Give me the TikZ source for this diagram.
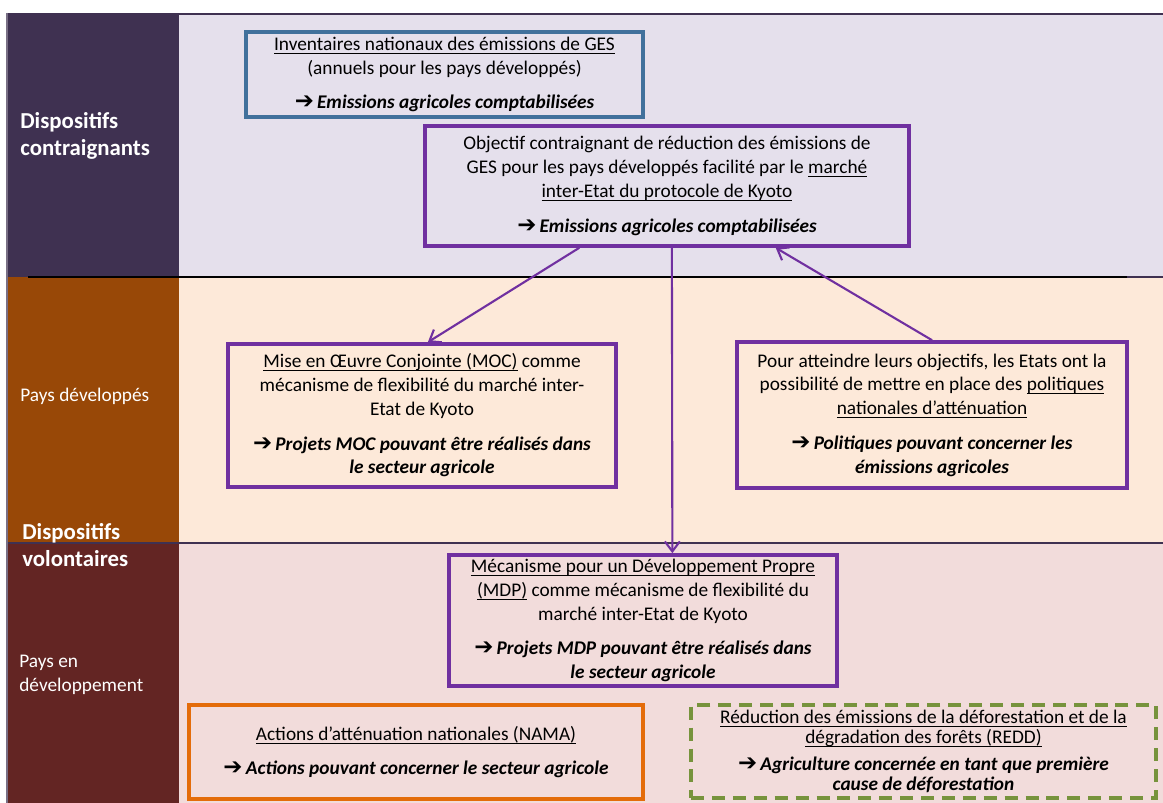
\documentclass[tikz,border=0pt]{standalone}
\usepackage{fontspec}
\setmainfont{Carlito}
\newfontfamily\symfont{DejaVu Sans}
\usetikzlibrary{arrows.meta,calc}

\definecolor{bandtop}{HTML}{3F3151}
\definecolor{banddev}{HTML}{984807}
\definecolor{bandpvd}{HTML}{632523}
\definecolor{filltop}{HTML}{E5E0EC}
\definecolor{filldev}{HTML}{FDE9D9}
\definecolor{fillpvd}{HTML}{F2DCDB}
\definecolor{kyoto}{HTML}{7030A0}
\definecolor{ges}{HTML}{41719C}
\definecolor{namacol}{HTML}{E46C0A}
\definecolor{reddcol}{HTML}{77933C}

\newcommand{\resultarrow}{{\fontsize{13}{12}\symfont\bfseries ➔}\,}
\newcommand{\keypt}[1]{\textbf{\textit{#1}}}
\newcommand{\uln}[1]{\setbox0\hbox{#1}\rlap{\copy0}\rule[-1.9pt]{\wd0}{0.5pt}}

\tikzset{
  box/.style={draw, line width=2.1pt, inner sep=0pt, align=center,
    font=\fontsize{11}{13.6}\selectfont},
  kyotobox/.style={box, draw=kyoto},
  bandlabel/.style={text=white, inner sep=0pt, align=left},
  flow/.style={draw=kyoto, line width=1.2pt, -{Straight Barb[length=2mm,width=3mm]}},
}

\begin{document}
\begin{tikzpicture}[x=0.02cm, y=-0.02cm]
\useasboundingbox (0,0) rectangle (1163,803);
% bands
\fill[filltop] (179,13) rectangle (1163,277); % contraignants
\fill[filldev] (179,277) rectangle (1163,543); % pays developpes
\fill[fillpvd] (179,543) rectangle (1163,803); % pays en developpement
\fill[bandtop] (7,13) rectangle (179,277);
\fill[banddev] (7,277) rectangle (179,543);
\fill[bandpvd] (7,543) rectangle (179,803);
\draw[bandtop, line width=1.6pt] (7,14) -- (1163,14);
\draw[black, line width=1.3pt] (28,277) -- (1127,277);
\draw[bandtop, line width=1.3pt] (1127,277) -- (1163,277);
\draw[bandtop, line width=1.3pt] (7,543) -- (1163,543);
\draw[bandtop!70, line width=0.6pt] (7,13) -- (7,803);

% band labels
\node[bandlabel, anchor=west, font=\fontsize{13}{15.5}\selectfont\bfseries] (lcontr) at (20,136) {Dispositifs\\contraignants};
\node[bandlabel, anchor=base west, font=\fontsize{11}{13.6}\selectfont] (ldev) at (20,402) {Pays développés};
\node[bandlabel, anchor=west, font=\fontsize{13}{15.5}\selectfont\bfseries] (lvol) at (22,545) {Dispositifs\\volontaires};
\node[bandlabel, anchor=west, font=\fontsize{11}{13.6}\selectfont] (lpvd) at (19,675) {Pays en\\développement};

% boxes
\node[box, draw=ges, minimum width=7.94cm, minimum height=1.70cm] (inv) at (444.5,74.5)
  {\uln{Inventaires nationaux des émissions de GES}\\
   (annuels pour les pays développés)\\[6pt]
   \keypt{\resultarrow Emissions agricoles comptabilisées}};
\node[kyotobox, minimum width=9.68cm, minimum height=2.40cm] (obj) at (667,186)
  {Objectif contraignant de réduction des émissions de\\
   GES pour les pays développés facilité par le \uln{marché}\\
   \uln{inter-Etat du protocole de Kyoto}\\[6pt]
   \keypt{\resultarrow Emissions agricoles comptabilisées}};
\node[kyotobox, minimum width=7.76cm, minimum height=2.86cm] (moc) at (422,415.5)
  {\uln{Mise en Œuvre Conjointe (MOC)} comme\\
   mécanisme de flexibilité du marché inter-\\
   Etat de Kyoto\\[6pt]
   \keypt{\resultarrow Projets MOC pouvant être réalisés dans}\\
   \keypt{le secteur agricole}};
\node[kyotobox, minimum width=7.80cm, minimum height=2.92cm] (pol) at (932,415)
  {Pour atteindre leurs objectifs, les Etats ont la\\
   possibilité de mettre en place des \uln{politiques}\\
   \uln{nationales d’atténuation}\\[6pt]
   \keypt{\resultarrow Politiques pouvant concerner les}\\
   \keypt{émissions agricoles}};
\node[kyotobox, minimum width=7.76cm, minimum height=2.62cm] (mdp) at (643,620.5)
  {\uln{Mécanisme pour un Développement Propre}\\
   \uln{(MDP)} comme mécanisme de flexibilité du\\
   marché inter-Etat de Kyoto\\[6pt]
   \keypt{\resultarrow Projets MDP pouvant être réalisés dans}\\
   \keypt{le secteur agricole}};
\node[box, draw=namacol, minimum width=9.08cm, minimum height=1.88cm] (nama) at (416,752)
  {\uln{Actions d’atténuation nationales (NAMA)}\\[6pt]
   \keypt{\resultarrow Actions pouvant concerner le secteur agricole}};
\node[box, draw=reddcol, dash pattern=on 7.4pt off 4.5pt, minimum width=9.30cm, minimum height=1.86cm,
  font=\fontsize{11}{11.4}\selectfont] (redd) at (923.5,751.5)
  {\uln{Réduction des émissions de la déforestation et de la}\\
   \uln{dégradation des forêts (REDD)}\\[4pt]
   \keypt{\resultarrow Agriculture concernée en tant que première}\\
   \keypt{cause de déforestation}};

% arrows
\draw[flow] ($(obj.south west)!0.32!(obj.south east)$) -- ($(moc.north west)!0.515!(moc.north east)$); % vers MOC
\draw[flow] ($(obj.south west)!0.51!(obj.south east)$) -- ($(mdp.north west)!0.575!(mdp.north east)$); % vers MDP
\draw[flow] (pol.north) -- ($(obj.south west)!0.723!(obj.south east)$); % politiques
\end{tikzpicture}
\end{document}
